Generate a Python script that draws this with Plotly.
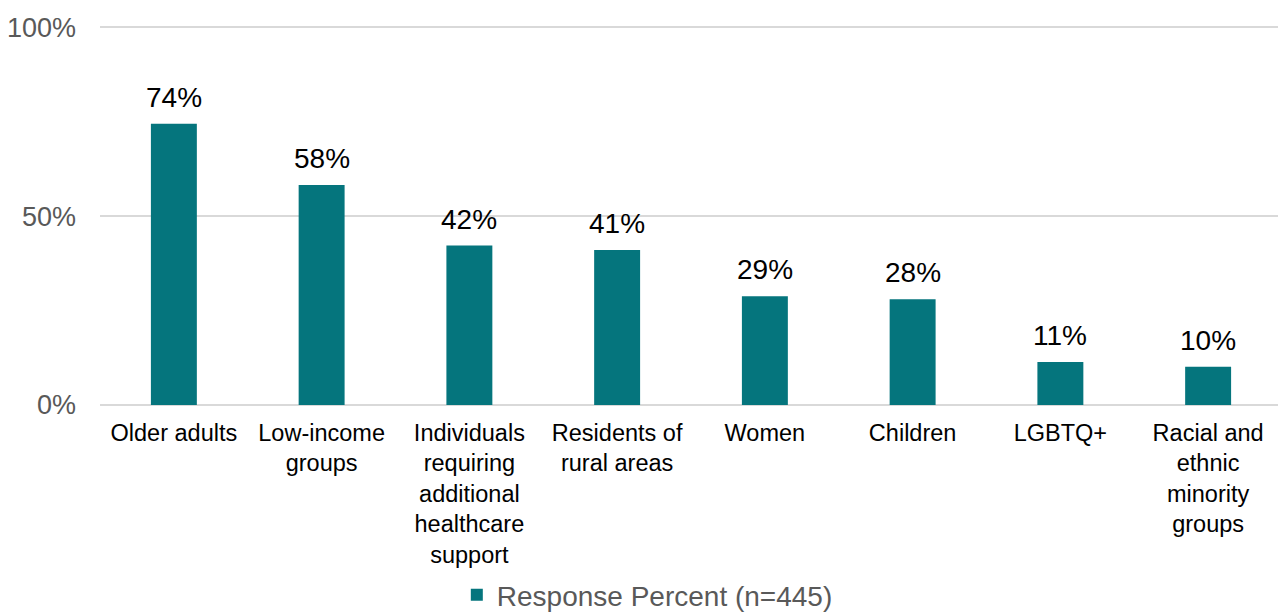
import plotly.graph_objects as go

categories = [
    "Older adults",
    "Low-income<br>groups",
    "Individuals<br>requiring<br>additional<br>healthcare<br>support",
    "Residents of<br>rural areas",
    "Women",
    "Children",
    "LGBTQ+",
    "Racial and<br>ethnic<br>minority<br>groups",
]
values = [74.4, 58.2, 42.2, 41.0, 28.8, 28.0, 11.4, 10.1]
series_name = "Response Percent (n=445)"
y_tick_vals = [0, 50, 100]
y_tick_text = ["0%", "50%", "100%"]

FONT = "Liberation Sans, Arial, sans-serif"
TEAL = "#05757D"

fig = go.Figure()
fig.add_trace(go.Bar(
    x=categories,
    y=values,
    name=series_name,
    marker=dict(color=TEAL, line=dict(width=0)),
    showlegend=True,
))

# data labels above bars
for c, v in zip(categories, values):
    fig.add_annotation(
        x=c, y=v, xref="x", yref="y",
        text=f"{v:.0f}%",
        showarrow=False,
        yanchor="bottom",
        yshift=9,
        font=dict(family=FONT, size=28, color="#000000"),
    )

fig.update_layout(
    width=1286,
    height=612,
    margin=dict(l=92, r=12, t=18, b=215),
    paper_bgcolor="white",
    plot_bgcolor="white",
    bargap=0.689,
    font=dict(family=FONT),
    showlegend=True,
    legend=dict(
        orientation="h",
        xref="container", yref="container",
        x=0.349, xanchor="left",
        y=0.0, yanchor="bottom",
        font=dict(family=FONT, size=28, color="#595959"),
        bgcolor="rgba(0,0,0,0)",
    ),
    xaxis=dict(
        automargin=False,
        showgrid=False,
        showline=False,
        zeroline=False,
        ticks="",
        tickfont=dict(family=FONT, size=23.5, color="#000000"),
        ticklabelstandoff=11,
        fixedrange=True,
    ),
    yaxis=dict(
        automargin=False,
        range=[0, 100.3],
        tickvals=y_tick_vals,
        ticktext=y_tick_text,
        showgrid=True,
        gridcolor="#D9D9D9",
        gridwidth=1.5,
        zeroline=True,
        zerolinecolor="#D9D9D9",
        zerolinewidth=1.5,
        showline=False,
        ticks="",
        tickfont=dict(family=FONT, size=27, color="#595959"),
        ticklabelstandoff=23,
        fixedrange=True,
    ),
)

fig.write_html("out.html")
